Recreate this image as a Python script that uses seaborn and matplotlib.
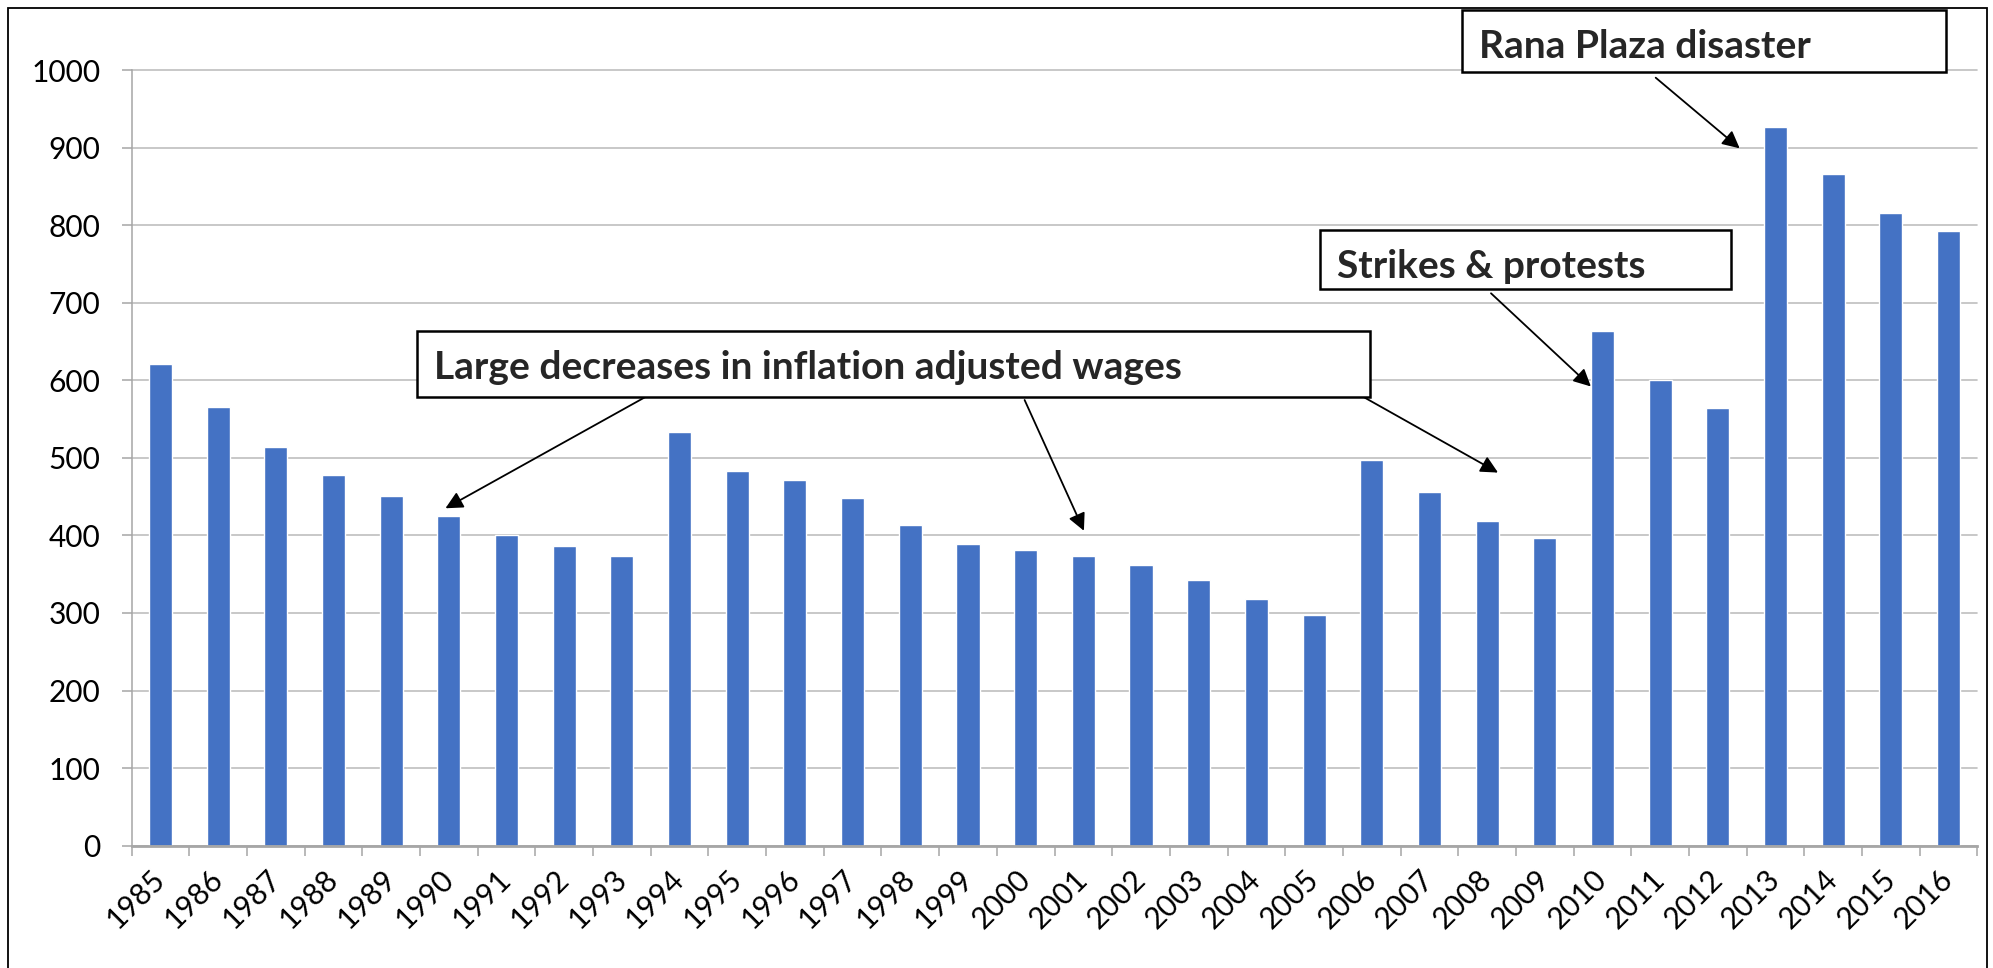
import matplotlib
matplotlib.use("Agg")
import matplotlib.pyplot as plt
from matplotlib.patches import Rectangle
from matplotlib.ticker import FixedLocator
import seaborn as sns
import pandas as pd

# ---- data ----
years = [str(y) for y in range(1985, 2017)]
wages = [621, 565, 514, 478, 451, 425, 400, 386, 374, 533, 483, 472, 448, 413,
         389, 381, 374, 362, 342, 318, 297, 497, 456, 419, 397, 663, 600, 564,
         927, 866, 816, 792]
y_ticks = [0, 100, 200, 300, 400, 500, 600, 700, 800, 900, 1000]

label_decrease = "Large decreases in inflation adjusted wages"
label_strikes = "Strikes & protests"
label_rana = "Rana Plaza disaster"

BAR = "#4472C4"
GRID = "#BFBFBF"
AXIS = "#A6A6A6"

sns.set_style("white")
plt.rcParams["font.family"] = ["Lato", "DejaVu Sans"]

W, H = 1993, 968
fig = plt.figure(figsize=(W / 100, H / 100), dpi=100)


def fx(x):
    return x / W


def fy(y):
    return 1 - y / H


left, right, top, bottom = 131.7, 1977.3, 70.0, 845.7
ax = fig.add_axes([fx(left), fy(bottom), fx(right) - fx(left), fy(top) - fy(bottom)])

df = pd.DataFrame({"year": years, "wage": wages})
sns.barplot(data=df, x="year", y="wage", color=BAR, width=0.4, saturation=1, ax=ax)

ax.set_xlim(-0.5, len(years) - 0.5)
ax.set_ylim(0, 1000)
ax.set_yticks(y_ticks)
ax.set_yticklabels([str(v) for v in y_ticks])
ax.set_xlabel("")
ax.set_ylabel("")

# grid
ax.set_axisbelow(True)
ax.yaxis.grid(True, color=GRID, lw=1.2)
for gl in ax.get_ygridlines():
    gl.set_clip_on(False)

# spines
for s in ["top", "right"]:
    ax.spines[s].set_visible(False)
ax.spines["left"].set_color(AXIS)
ax.spines["left"].set_linewidth(1.1)
ax.spines["bottom"].set_color(AXIS)
ax.spines["bottom"].set_linewidth(2.0)

TICK_FS = 21.5

# ticks
ax.tick_params(axis="y", length=7.2, width=1.1, color=AXIS, labelsize=TICK_FS,
               pad=15.5, labelcolor="black", left=True)
ax.xaxis.set_minor_locator(FixedLocator([i - 0.5 for i in range(len(years) + 1)]))
ax.tick_params(axis="x", which="minor", length=7.2, width=1.1, color=AXIS, bottom=True)
ax.tick_params(axis="x", which="major", length=0, labelsize=TICK_FS, pad=21, labelcolor="black")
for lab in ax.get_xticklabels():
    lab.set_rotation(45)
    lab.set_ha("right")
    lab.set_va("center")
    lab.set_rotation_mode("anchor")

# outer frame
fig.patches.append(Rectangle((fx(8), -0.02), fx(1987) - fx(8), fy(8) + 0.02,
                             transform=fig.transFigure, fill=False,
                             ec="black", lw=1.3, zorder=0))


def box(x0, y0, x1, y1):
    fig.patches.append(Rectangle((fx(x0), fy(y1)), fx(x1) - fx(x0), fy(y0) - fy(y1),
                                 transform=fig.transFigure, fc="white",
                                 ec="black", lw=1.8, zorder=5))


def arrow(start_px, tip_data):
    ax.annotate("", xy=tip_data, xycoords="data",
                xytext=(fx(start_px[0]), fy(start_px[1])), textcoords="figure fraction",
                arrowprops=dict(arrowstyle="-|>", color="black", lw=1.3,
                                mutation_scale=26, shrinkA=0, shrinkB=0),
                annotation_clip=False, zorder=6)


ANN_FS = 28

# annotation: large decreases
box(417, 331.5, 1370, 397.5)
fig.text(fx(434), fy(378.5), label_decrease, fontsize=ANN_FS, fontweight="bold",
         ha="left", va="baseline", zorder=7)
arrow((649, 395), (4.94, 435))
arrow((1024.6, 400), (16.01, 406))
arrow((1360, 395), (23.19, 481))

# annotation: strikes
box(1319.5, 230, 1731, 288.7)
fig.text(fx(1337), fy(277.5), label_strikes, fontsize=ANN_FS, fontweight="bold",
         ha="left", va="baseline", zorder=7)
arrow((1491, 293.3), (24.80, 592))

# annotation: Rana Plaza
box(1462, 10, 1946, 71.7)
fig.text(fx(1479), fy(57.5), label_rana, fontsize=ANN_FS, fontweight="bold",
         ha="left", va="baseline", zorder=7)
arrow((1655.7, 77.7), (27.38, 899))

fig.savefig("out.png", dpi=100)
